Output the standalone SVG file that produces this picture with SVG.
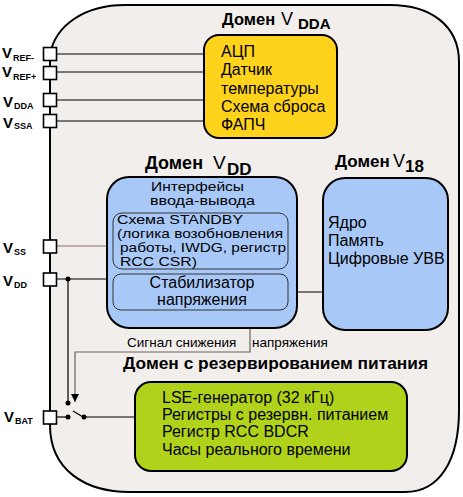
<svg xmlns="http://www.w3.org/2000/svg" width="463" height="497" viewBox="0 0 463 497">
<style>
text{font-family:"Liberation Sans",Arial,sans-serif;fill:#000}
.t{font-size:16px}
.n{font-size:13px}
.s{font-size:13.5px}
.b{font-weight:bold}
.box{stroke:#000;stroke-width:2}
.inner{fill:#a8c8f8;stroke:#333;stroke-width:1}
.pin{fill:#fff;stroke:#000;stroke-width:1.6}
.w{stroke:#000;stroke-width:1.2;fill:none}
.g{stroke:#6e6058;stroke-width:1.2;fill:none}
.pl{font-size:15px;font-weight:bold}
.ps{font-size:9px;font-weight:bold}
</style>
<defs>
<marker id="arr" viewBox="0 0 10 10" refX="10" refY="5" markerWidth="8" markerHeight="8" markerUnits="userSpaceOnUse" orient="auto">
<path d="M0,0 L10,5 L0,10 z" fill="#000"/>
</marker>
</defs>
<rect width="463" height="497" fill="#fff"/>
<g id="domain-outer">
<path class="box" fill="#f1eeec" d="M50,55 C55,25 85,5 125,5 L390,5 C430,5 459,25 459,62 L459,410 C459,460 440,492 405,492 L130,492 C85,492 50,470 50,425 Z"/>
<text x="222" y="25" class="b" font-size="16.5">Домен</text>
<text x="281" y="25" font-size="18">V</text>
<text x="298" y="29" class="b" font-size="15">DDA</text>
</g>
<g id="connectors">
<line class="w" x1="57" y1="54" x2="204" y2="54"/>
<line class="w" x1="57" y1="72" x2="204" y2="72"/>
<line class="w" x1="57" y1="100" x2="204" y2="100"/>
<line class="w" x1="57" y1="121" x2="204" y2="121"/>
<line x1="57" y1="246" x2="107" y2="246" stroke="#8a7060" stroke-width="1.2"/>
<line class="w" x1="57" y1="279" x2="107" y2="279"/>
<line class="w" x1="68" y1="279" x2="68" y2="402"/>
<line class="w" x1="288" y1="292" x2="323" y2="292"/>
<polyline class="g" points="250,311 250,352 75,352 75,402" marker-end="url(#arr)"/>
<line class="w" x1="57" y1="417" x2="68" y2="417"/>
<line class="w" x1="73" y1="411" x2="83" y2="417"/>
<line class="w" x1="83" y1="417" x2="135" y2="417"/>
<circle cx="68" cy="279" r="2.5"/>
<circle cx="68" cy="403" r="2.5"/>
<circle cx="68" cy="417" r="2.5"/>
<circle cx="84" cy="417" r="2.5"/>
<text class="s" x="127" y="347">Сигнал снижения<tspan x="252">напряжения</tspan></text>
</g>
<g id="pins">
<rect class="pin" x="43.5" y="47.5" width="13" height="13"/>
<rect class="pin" x="43.5" y="66.5" width="13" height="13"/>
<rect class="pin" x="43.5" y="93.5" width="13" height="13"/>
<rect class="pin" x="43.5" y="114.5" width="13" height="13"/>
<rect class="pin" x="43.5" y="240" width="13" height="13"/>
<rect class="pin" x="43.5" y="273" width="13" height="13"/>
<rect class="pin" x="43.5" y="411" width="13" height="13"/>
<text class="pl" x="2" y="58">V<tspan class="ps" x="13" y="61">REF-</tspan></text>
<text class="pl" x="2" y="77">V<tspan class="ps" x="13" y="80">REF+</tspan></text>
<text class="pl" x="3" y="107">V<tspan class="ps" x="14" y="109">DDA</tspan></text>
<text class="pl" x="3" y="128">V<tspan class="ps" x="14" y="129">SSA</tspan></text>
<text class="pl" x="3" y="253">V<tspan class="ps" x="14" y="255">SS</tspan></text>
<text class="pl" x="3" y="286">V<tspan class="ps" x="14" y="288">DD</tspan></text>
<text class="pl" x="4" y="422">V<tspan class="ps" x="15" y="424">BAT</tspan></text>
</g>
<g id="vdda-box">
<rect class="box" x="204" y="35" width="133" height="103" rx="15" fill="#ffd21c"/>
<text class="t" x="221" y="57">АЦП</text>
<text class="t" x="221" y="75">Датчик</text>
<text class="t" x="221" y="93.5">температуры</text>
<text class="t" x="221" y="112">Схема сброса</text>
<text class="t" x="221" y="130">ФАПЧ</text>
</g>
<g id="vdd-domain">
<text x="145" y="169" class="b" font-size="18">Домен</text>
<text x="213" y="169" font-size="19">V</text>
<text x="227" y="175" class="b" font-size="17">DD</text>
<rect class="box" x="107" y="177" width="190" height="151" rx="22" fill="#a8c8f8"/>
<text class="n" x="151" y="191" textLength="93" lengthAdjust="spacingAndGlyphs">Интерфейсы</text>
<text class="n" x="150" y="205" textLength="105" lengthAdjust="spacingAndGlyphs">ввода-вывода</text>
</g>
<g id="standby">
<rect class="inner" x="113" y="213" width="175" height="56" rx="9"/>
<text class="n" x="117" y="224" textLength="126" lengthAdjust="spacingAndGlyphs">Схема STANDBY</text>
<text class="n" x="117" y="238" textLength="166" lengthAdjust="spacingAndGlyphs">(логика возобновления</text>
<text class="n" x="120" y="252" textLength="166" lengthAdjust="spacingAndGlyphs">работы, IWDG, регистр</text>
<text class="n" x="120" y="266" textLength="77" lengthAdjust="spacingAndGlyphs">RCC CSR)</text>
</g>
<g id="regulator">
<rect class="inner" x="113" y="274" width="175" height="36" rx="8"/>
<text class="t" x="202" y="288" text-anchor="middle">Стабилизатор</text>
<text class="t" x="202" y="305" text-anchor="middle">напряжения</text>
</g>
<g id="v18-domain">
<text x="335" y="167" class="b" font-size="17">Домен</text>
<text x="393" y="167" font-size="18">V</text>
<text x="405" y="172" class="b" font-size="17">18</text>
<rect class="box" x="323" y="178" width="125" height="152" rx="22" fill="#a8c8f8"/>
<text class="t" x="328" y="228">Ядро</text>
<text class="t" x="328" y="246">Память</text>
<text class="t" x="328" y="264">Цифровые УВВ</text>
</g>
<g id="backup-domain">
<text x="123" y="369" class="b" font-size="17" textLength="305" lengthAdjust="spacingAndGlyphs">Домен с резервированием питания</text>
<rect class="box" x="135" y="382" width="272" height="89" rx="16" fill="#b0d21a"/>
<text class="t" x="162" y="403">LSE-генератор (32 кГц)</text>
<text class="t" x="162" y="420">Регистры с резервн. питанием</text>
<text class="t" x="162" y="437">Регистр RCC BDCR</text>
<text class="t" x="162" y="455">Часы реального времени</text>
</g>
</svg>
